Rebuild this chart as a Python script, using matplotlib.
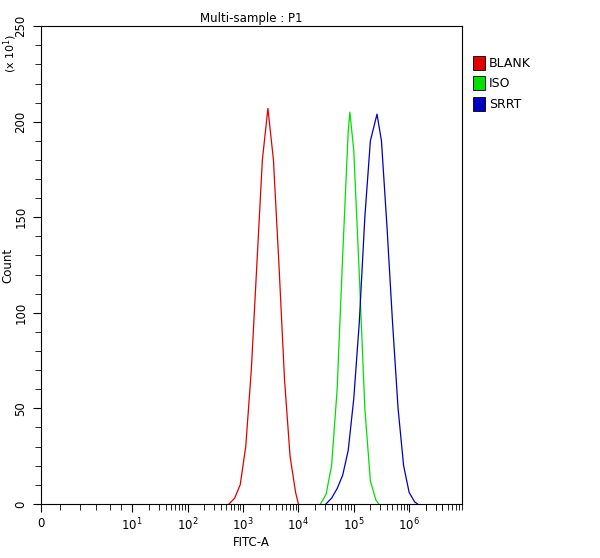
import numpy as np
import matplotlib
matplotlib.use("Agg")
import matplotlib.pyplot as plt
from matplotlib.patches import Rectangle

# log10 positions (decades of FITC-A) and counts (x10)
blank_log = [2.75,2.85,2.95,3.05,3.15,3.25,3.35,3.45,3.55,3.65,3.75,3.85,3.95,4.0]
blank_cnt = [0,3,10,30,70,125,180,207,180,125,65,25,6,0]
iso_log = [4.40,4.5,4.6,4.7,4.8,4.9,4.93,5.0,5.1,5.2,5.3,5.4,5.45]
iso_cnt = [0,5,20,60,130,195,205,185,120,50,12,2,0]
srrt_log = [4.5,4.6,4.7,4.8,4.9,5.0,5.1,5.2,5.3,5.42,5.5,5.6,5.7,5.8,5.9,6.0,6.1,6.15]
srrt_cnt = [0,3,8,15,28,55,95,150,190,204,190,145,95,50,20,6,1,0]
names = ["BLANK", "ISO", "SRRT"]
colors = ["#e00000", "#00e000", "#0000c0"]
ZERO = -0.65  # axis position of the "0" label (biexponential display)

fig = plt.figure(figsize=(6, 5.58), dpi=100)
ax = fig.add_axes([0.068, 0.097, 0.702, 0.856])
for lg, c, col in zip([blank_log, iso_log, srrt_log], [blank_cnt, iso_cnt, srrt_cnt], colors):
    ax.plot(lg, c, color=col, lw=0.9)
ax.set_xlim(ZERO, 6.65)
ax.set_ylim(0, 250)
ax.set_xticks([ZERO] + list(range(1, 7)))
ax.set_xticklabels(["0"] + [f"$10^{k}$" for k in range(1, 7)])
mt = [np.log10(m * 10 ** k) for k in range(1, 7) for m in range(2, 10)] + [np.log10(m * 1e6) for m in (2, 3, 4)]
mt += [-0.3, 0.05, 0.35, 0.6, 0.8]
ax.set_xticks(mt, minor=True)
ax.set_yticks([0, 50, 100, 150, 200, 250])
ax.set_yticks(range(0, 251, 10), minor=True)
ax.tick_params(direction='out', labelsize=8.5, length=6)
ax.tick_params(which='minor', length=4)
for lab in ax.get_yticklabels():
    lab.set_rotation(90); lab.set_va('center')
ax.set_xlabel("FITC-A", fontsize=8.5, labelpad=2)
ax.set_ylabel("Count", fontsize=8.5)
ax.yaxis.set_label_coords(-0.062, 0.5)
ax.set_title("Multi-sample : P1", fontsize=8.5, pad=3)
fig.text(0.003, 0.905, "(x 10$^1$)", rotation=90, fontsize=8, va='center', ha='left')
for i, (n, col) in enumerate(zip(names, colors)):
    y = 0.875 - i * 0.037
    fig.patches.append(Rectangle((0.788, y), 0.02, 0.025, transform=fig.transFigure,
                                 facecolor=col, edgecolor='k', lw=0.6))
    fig.text(0.815, y + 0.012, n, fontsize=9, va='center')
fig.savefig("out.png", dpi=100)
